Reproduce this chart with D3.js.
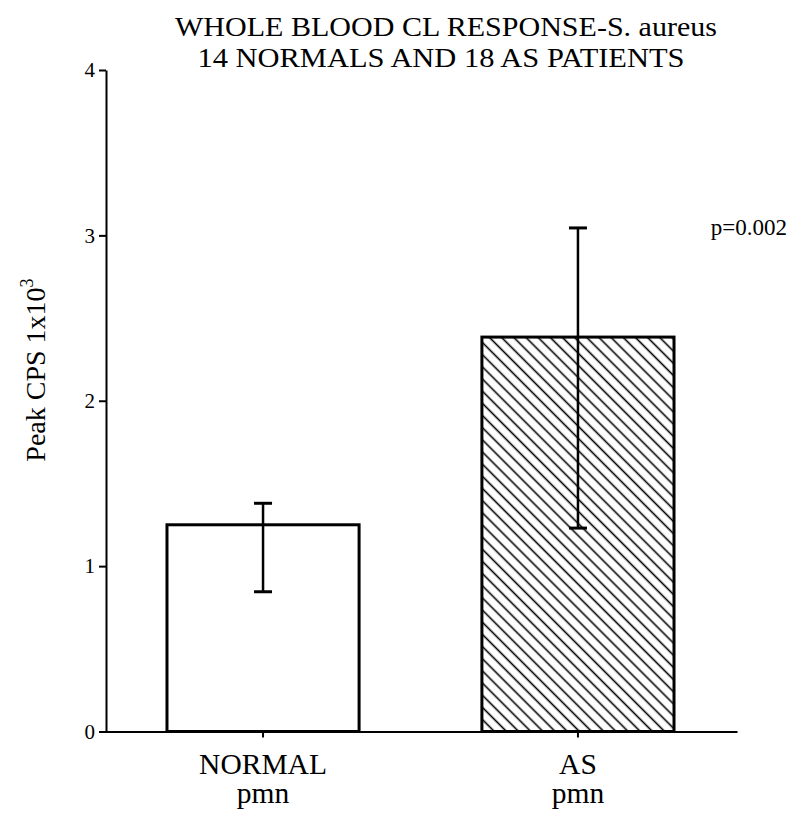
<!DOCTYPE html>
<html>
<head>
<meta charset="utf-8">
<script src="https://cdn.jsdelivr.net/npm/d3@7"></script>
<style>
  html, body { margin: 0; padding: 0; background: #fff; }
  svg { display: block; }
  text { font-family: "Liberation Serif", "Times New Roman", serif; fill: #000; }
</style>
</head>
<body>
<svg id="chart" width="792" height="816"></svg>
<script>
// Whole blood chemiluminescence response data
const groups = ["NORMAL", "AS"];
const subLabels = ["pmn", "pmn"];
const means = [1.25, 2.385];
const errLow = [0.845, 1.23];
const errHigh = [1.38, 3.045];
const yTicks = [0, 1, 2, 3, 4];
const titleLines = ["WHOLE BLOOD CL RESPONSE-S. aureus", "14 NORMALS AND 18 AS PATIENTS"];
const pLabel = "p=0.002";

const svg = d3.select("#chart");

const y = d3.scaleLinear().domain([0, 4]).range([731.5, 70]);
const x = d3.scaleBand().domain(groups).range([104, 737])
  .paddingInner(0.39).paddingOuter(0.2);

// diagonal hatch for the patient bar
const defs = svg.append("defs");
const pat = defs.append("pattern")
  .attr("id", "hatch")
  .attr("patternUnits", "userSpaceOnUse")
  .attr("width", 8.6).attr("height", 8.6)
  .attr("patternTransform", "rotate(45)");
pat.append("rect").attr("width", 8.6).attr("height", 8.6).attr("fill", "#fff");
pat.append("line")
  .attr("x1", 0).attr("x2", 8.6).attr("y1", 4.3).attr("y2", 4.3)
  .attr("stroke", "#000").attr("stroke-width", 1.6);

// title
svg.append("g").selectAll("text").data(titleLines).join("text")
  .attr("x", (d, i) => i === 0 ? 446 : 441)
  .attr("y", (d, i) => 36 + i * 31)
  .attr("text-anchor", "middle")
  .attr("font-size", 28)
  .attr("textLength", (d, i) => i === 0 ? 542 : 487)
  .attr("lengthAdjust", "spacingAndGlyphs")
  .text(d => d);

// bars
svg.append("g").selectAll("rect").data(groups).join("rect")
  .attr("x", d => x(d))
  .attr("width", x.bandwidth())
  .attr("y", (d, i) => y(means[i]))
  .attr("height", (d, i) => y(0) - y(means[i]))
  .attr("fill", (d, i) => i === 1 ? "url(#hatch)" : "#fff")
  .attr("stroke", "#000")
  .attr("stroke-width", 3);

// error bars
const eb = svg.append("g").attr("stroke", "#000").attr("stroke-width", 2.5);
groups.forEach((g, i) => {
  const cx = x(g) + x.bandwidth() / 2;
  eb.append("line").attr("x1", cx).attr("x2", cx)
    .attr("y1", y(errLow[i])).attr("y2", y(errHigh[i]));
  [errLow[i], errHigh[i]].forEach(v => {
    eb.append("line").attr("x1", cx - 9).attr("x2", cx + 9)
      .attr("y1", y(v)).attr("y2", y(v)).attr("stroke-width", 3);
  });
});

// y axis
const yAxis = svg.append("g")
  .attr("transform", "translate(106,0)")
  .call(d3.axisLeft(y).tickValues(yTicks).tickFormat(d3.format("d")).tickSize(7).tickSizeOuter(0));
yAxis.select(".domain").attr("stroke-width", 2);
yAxis.selectAll(".tick line").attr("stroke-width", 2);
yAxis.selectAll(".tick text").attr("font-size", 21).attr("x", -11)
  .style("font-family", "'Liberation Serif', serif");

// x axis
const xAxis = svg.append("g")
  .attr("transform", `translate(0,${y(0)})`)
  .call(d3.axisBottom(x).tickSize(6).tickSizeOuter(0).tickFormat(""));
xAxis.select(".domain").attr("stroke-width", 2);
xAxis.selectAll(".tick line").attr("stroke-width", 2);

// category labels
const cl = svg.append("g").selectAll("g").data(groups).join("g");
cl.append("text")
  .attr("x", d => x(d) + x.bandwidth() / 2)
  .attr("y", 774)
  .attr("text-anchor", "middle")
  .attr("font-size", 29.5)
  .text(d => d);
cl.append("text")
  .attr("x", d => x(d) + x.bandwidth() / 2)
  .attr("y", 803)
  .attr("text-anchor", "middle")
  .attr("font-size", 29.5)
  .text((d, i) => subLabels[i]);

// y axis title
const yt = svg.append("text")
  .attr("transform", "translate(45,370) rotate(-90)")
  .attr("text-anchor", "middle")
  .attr("font-size", 28);
yt.append("tspan").text("Peak CPS 1x10");
yt.append("tspan").attr("dy", -12).attr("font-size", 18).text("3");

// significance note
svg.append("text")
  .attr("x", 787).attr("y", 235)
  .attr("text-anchor", "end")
  .attr("font-size", 23)
  .text(pLabel);
</script>
</body>
</html>
